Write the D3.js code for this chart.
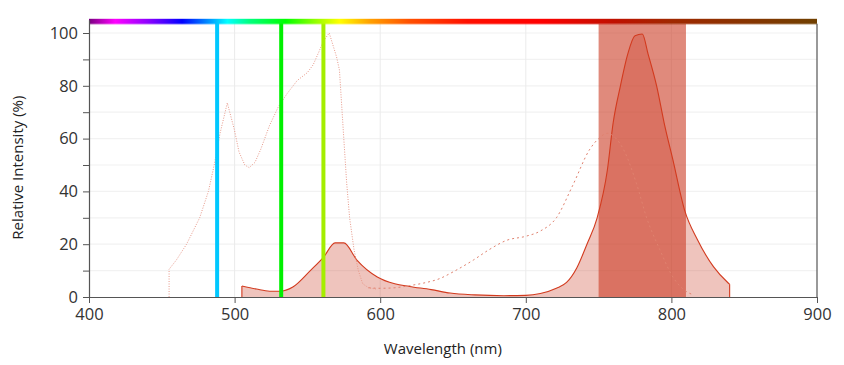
<!DOCTYPE html>
<html lang="en">
<head>
<meta charset="UTF-8">
<title>Spectra</title>
<script src="https://cdn.jsdelivr.net/npm/d3@7"></script>
<style>
  body { margin: 0; background: #fff; }
  text { font-family: "Open Sans", "Noto Sans", sans-serif; }
</style>
</head>
<body>
<script>
// excitation (dotted)
const exWl  = [455, 455, 460, 467, 476, 482, 486, 490, 495, 500, 503, 507, 510, 514, 518, 524, 530, 536, 543, 550, 554, 558, 561, 565, 570, 572, 575, 577, 579, 582, 585, 588, 592, 597];
const exVal = [0, 10.5, 14, 20, 30, 40, 50, 62, 73.5, 63, 55, 50, 49, 51, 56, 65, 72, 77, 82, 85, 88, 93, 97, 100, 91, 86, 60, 43, 30, 18, 10, 5, 3.5, 3];

// emission of the same dye (dashed)
const emWl  = [592, 600, 610, 620, 630, 641, 650, 664, 675, 687, 700, 710, 721, 732, 744, 750, 756, 762, 767, 776, 783, 792, 801, 808, 815];
const emVal = [3.5, 3.3, 3.5, 4.3, 5.3, 7, 9.5, 14, 18, 21.5, 23, 25, 30, 42, 56, 60, 62, 60, 56, 43, 30, 18, 7.6, 3, 0.8];

// filled emission
const fillWl  = [505, 515, 524, 531, 540, 552, 561, 569, 575, 584, 598, 610, 620, 635, 648, 665, 685, 700, 710, 721, 728, 735, 742, 749, 756, 760, 765, 770, 775, 780, 784, 790, 795, 801, 809, 818, 829, 839, 840];
const fillVal = [4.2, 3.0, 2.2, 2.2, 3.8, 10, 15, 20.5, 20.5, 14, 7.6, 5, 4, 2.8, 1.5, 0.8, 0.5, 0.6, 1.3, 3.3, 5.5, 11, 20, 30, 48, 66, 80, 92, 99, 99.6, 92, 79.6, 66, 52, 33, 21.6, 11.4, 5.3, 4.8];

const laserWl     = [488, 532, 561];
const laserColors = ['#00c8ff', '#00f000', '#a4ee00'];

const filterBand = [750, 810];

const specWl     = [400, 418, 440, 464, 480, 495, 510, 535, 555, 572, 593, 620, 660, 710, 760, 800, 900];
const specColors = ['#7a0080', '#ff00ff', '#9000ff', '#0000ff', '#0080ff', '#00ffff', '#00ff80', '#00ff00', '#90ff00', '#ffff00', '#ffa000', '#ff5000', '#ff1000', '#ff0000', '#c01000', '#a02800', '#704000'];

const xTicks = [400, 500, 600, 700, 800, 900];
const yTicks = [0, 10, 20, 30, 40, 50, 60, 70, 80, 90, 100];

const W = 844, H = 365;
const mLeft = 89, mRight = 817, mTop = 19.8, mBottom = 297;

const svg = d3.select('body').append('svg')
    .attr('width', W).attr('height', H);

const x = d3.scaleLinear().domain([400, 900]).range([mLeft, mRight]);
const y = d3.scaleLinear().domain([0, 105]).range([mBottom, mTop]);

// grid
svg.append('g').selectAll('line.hg')
    .data(yTicks.filter(d => d > 0))
    .enter().append('line')
    .attr('x1', mLeft).attr('x2', mRight)
    .attr('y1', d => y(d)).attr('y2', d => y(d))
    .attr('stroke', '#f2f2f2').attr('stroke-width', 1.2);
svg.append('g').selectAll('line.vg')
    .data(xTicks.slice(1, -1))
    .enter().append('line')
    .attr('x1', d => x(d)).attr('x2', d => x(d))
    .attr('y1', mTop).attr('y2', mBottom)
    .attr('stroke', '#ebebeb').attr('stroke-width', 1);

// filled emission
const fillData = fillWl.map((w, i) => [w, fillVal[i]]);
svg.append('path')
    .datum(fillData)
    .attr('fill', 'rgba(203,60,37,0.3)')
    .attr('d', d3.area().x(d => x(d[0])).y0(mBottom).y1(d => y(d[1])).curve(d3.curveMonotoneX));

// filter band
svg.append('rect')
    .attr('x', x(filterBand[0])).attr('width', x(filterBand[1]) - x(filterBand[0]))
    .attr('y', mTop + 4).attr('height', mBottom - mTop - 4)
    .attr('fill', 'rgba(203,60,37,0.6)');

svg.append('path')
    .datum(fillData)
    .attr('fill', 'none').attr('stroke', '#d23a1e').attr('stroke-width', 1.1)
    .attr('d', d3.line().x(d => x(d[0])).y(d => y(d[1])).curve(d3.curveMonotoneX));
// vertical start/end edges
svg.append('g').selectAll('line')
    .data([fillData[0], fillData[fillData.length - 1]])
    .enter().append('line')
    .attr('x1', d => x(d[0])).attr('x2', d => x(d[0]))
    .attr('y1', mBottom).attr('y2', d => y(d[1]))
    .attr('stroke', '#d23a1e').attr('stroke-width', 1.1);

// dotted excitation
svg.append('path')
    .datum(exWl.map((w, i) => [w, exVal[i]]))
    .attr('fill', 'none').attr('stroke', '#e8998a').attr('stroke-width', 1)
    .attr('stroke-dasharray', '1,1.5')
    .attr('d', d3.line().x(d => x(d[0])).y(d => y(d[1])));

// dashed emission
svg.append('path')
    .datum(emWl.map((w, i) => [w, emVal[i]]))
    .attr('fill', 'none').attr('stroke', '#e0826f').attr('stroke-width', 1)
    .attr('stroke-dasharray', '2,3')
    .attr('d', d3.line().x(d => x(d[0])).y(d => y(d[1])).curve(d3.curveMonotoneX));

// laser lines
svg.append('g').selectAll('line')
    .data(laserWl)
    .enter().append('line')
    .attr('x1', d => x(d)).attr('x2', d => x(d))
    .attr('y1', mTop).attr('y2', mBottom)
    .attr('stroke', (d, i) => laserColors[i]).attr('stroke-width', 4);

// spectrum bar
const grad = svg.append('defs').append('linearGradient')
    .attr('id', 'spec').attr('gradientUnits', 'userSpaceOnUse')
    .attr('x1', mLeft).attr('x2', mRight).attr('y1', 0).attr('y2', 0);
grad.selectAll('stop')
    .data(specWl)
    .enter().append('stop')
    .attr('offset', d => (x(d) - mLeft) / (mRight - mLeft))
    .attr('stop-color', (d, i) => specColors[i]);
svg.append('rect')
    .attr('x', mLeft).attr('y', mTop - 1).attr('width', mRight - mLeft).attr('height', 5)
    .attr('fill', 'url(#spec)');
svg.append('rect')
    .attr('x', mLeft).attr('y', mTop + 4).attr('width', mRight - mLeft).attr('height', 1)
    .attr('fill', 'url(#spec)').attr('opacity', 0.35);

// axes
const xAxis = svg.append('g')
    .attr('transform', 'translate(0,' + mBottom + ')')
    .call(d3.axisBottom(x).tickValues(xTicks).tickSize(6).tickSizeOuter(0).tickPadding(5));
const yAxis = svg.append('g')
    .attr('transform', 'translate(' + mLeft + ',0)')
    .call(d3.axisLeft(y).tickValues(yTicks).tickSize(6).tickSizeOuter(0).tickPadding(5)
        .tickFormat(d => d % 20 === 0 ? d : ''));
svg.append('line')
    .attr('x1', mRight).attr('x2', mRight).attr('y1', mTop + 4).attr('y2', mBottom)
    .attr('stroke', '#555').attr('stroke-width', 1.2);

[xAxis, yAxis].forEach(g => {
    g.selectAll('path').attr('stroke', '#555').attr('stroke-width', 1.2);
    g.selectAll('line').attr('stroke', '#555');
    g.selectAll('text').attr('fill', '#333').style('font-size', '16.5px')
        .style('font-family', '"Open Sans", sans-serif');
});

svg.append('text')
    .attr('x', x(643)).attr('y', 354)
    .attr('text-anchor', 'middle').attr('fill', '#222')
    .style('font-size', '15px')
    .text('Wavelength (nm)');
svg.append('text')
    .attr('transform', 'translate(23,' + y(49) + ') rotate(-90)')
    .attr('text-anchor', 'middle').attr('fill', '#222')
    .style('font-size', '15px')
    .text('Relative Intensity (%)');
</script>
</body>
</html>
